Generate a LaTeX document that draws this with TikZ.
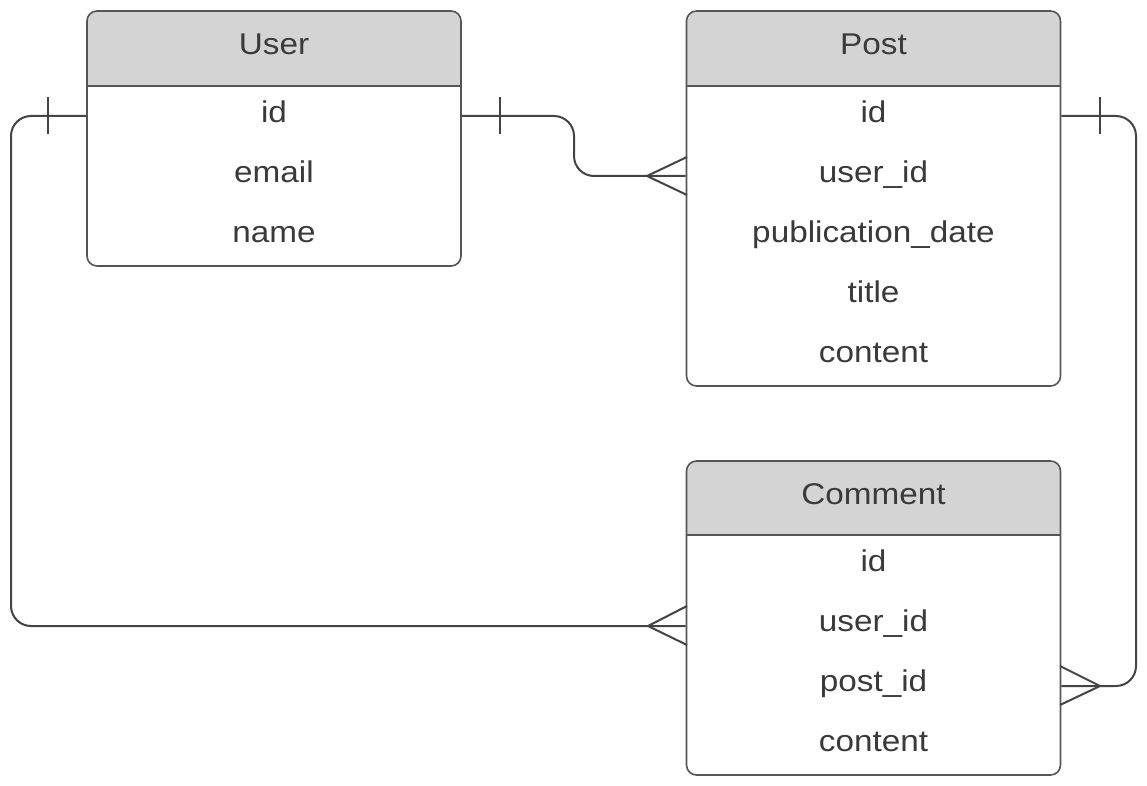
\documentclass[tikz,border=0pt]{standalone}
\usepackage{fontspec}
\setmainfont{Liberation Sans}
\newfontfamily\widefont[FakeStretch=1.11]{Liberation Sans}
\definecolor{hdr}{HTML}{D4D4D4}
\definecolor{txt}{HTML}{3A3A3A}
\definecolor{edge}{HTML}{555555}
\definecolor{conn}{HTML}{444444}
\begin{document}
\begin{tikzpicture}[x=1pt,y=-1pt,
  field/.style={text=txt,font=\widefont\fontsize{30}{36}\selectfont,inner sep=0pt,text height=0.66em,text depth=0.24em,anchor=center,yshift=-4pt},
  title/.style={text=txt,font=\widefont\fontsize{30}{36}\selectfont,inner sep=0pt,text height=0.66em,text depth=0.24em,anchor=center,yshift=-4pt},
  tbl/.style={draw=edge,line width=1.6pt,rounded corners=10pt,inner sep=0pt,minimum width=374pt},
  link/.style={draw=conn,line width=2pt,rounded corners=20pt},
  ermark/.style={draw=conn,line width=2pt}
]
\useasboundingbox (0,0) rectangle (1147,786);

% header fills
\fill[hdr,rounded corners=10pt] (87,86) -- (87,11) -- (461,11) -- (461,86) -- cycle;
\fill[hdr,rounded corners=10pt] (687,86) -- (687,11) -- (1060,11) -- (1060,86) -- cycle;
\fill[hdr,rounded corners=10pt] (687,535) -- (687,461) -- (1060,461) -- (1060,535) -- cycle;
\fill[hdr] (87,40) rectangle (461,86);
\fill[hdr] (687,40) rectangle (1060,86);
\fill[hdr] (687,490) rectangle (1060,535);

% tables
\node[tbl,minimum height=255pt] (user) at (274,138.5) {};
\node[tbl,minimum height=375pt] (post) at (873.5,198.5) {};
\node[tbl,minimum height=314pt] (comment) at (873.5,618) {};
\draw[edge,line width=1.6pt] (user.west |- 0,86) -- (user.east |- 0,86);
\draw[edge,line width=1.6pt] (post.west |- 0,86) -- (post.east |- 0,86);
\draw[edge,line width=1.6pt] (comment.west |- 0,535) -- (comment.east |- 0,535);

% titles
\node[title] (user-t) at (274,48.5) {User};
\node[title] (post-t) at (873.5,48.5) {Post};
\node[title] (comment-t) at (873.5,498) {Comment};

% fields
\node[field] (u-id) at (274,116) {id};
\node[field] (u-email) at (274,176) {email};
\node[field] (u-name) at (274,236) {name};

\node[field] (p-id) at (873.5,116) {id};
\node[field] (p-uid) at (873.5,176) {user\_id};
\node[field] (p-date) at (873.5,236) {publication\_date};
\node[field] (p-title) at (873.5,296) {title};
\node[field] (p-content) at (873.5,356) {content};

\node[field] (c-id) at (873.5,565) {id};
\node[field] (c-uid) at (873.5,625) {user\_id};
\node[field] (c-pid) at (873.5,685) {post\_id};
\node[field] (c-content) at (873.5,745) {content};

% connector User.id -> Comment.user_id
\coordinate (l1a) at (11,116);
\coordinate (l1b) at (11,626);
\draw[link] (user.west |- 0,116) -- (l1a) -- (l1b) -- (comment.west |- 0,626);
\draw[ermark] (48,97) -- (48,134);
\draw[ermark] (687,606) -- (648,626) -- (687,645);

% connector User.id -> Post.user_id
\coordinate (l2a) at (574,116);
\coordinate (l2b) at (574,176);
\draw[link] (user.east |- 0,116) -- (l2a) -- (l2b) -- (post.west |- 0,176);
\draw[ermark] (500,97) -- (500,134);
\draw[ermark] (687,157) -- (647,176) -- (687,195);

% connector Post.id -> Comment.post_id
\coordinate (l3a) at (1136,116);
\coordinate (l3b) at (1136,686);
\draw[link] (post.east |- 0,116) -- (l3a) -- (l3b) -- (comment.east |- 0,686);
\draw[ermark] (1100,97) -- (1100,134);
\draw[ermark] (1060,666) -- (1100,686) -- (1060,705);
\end{tikzpicture}
\end{document}
